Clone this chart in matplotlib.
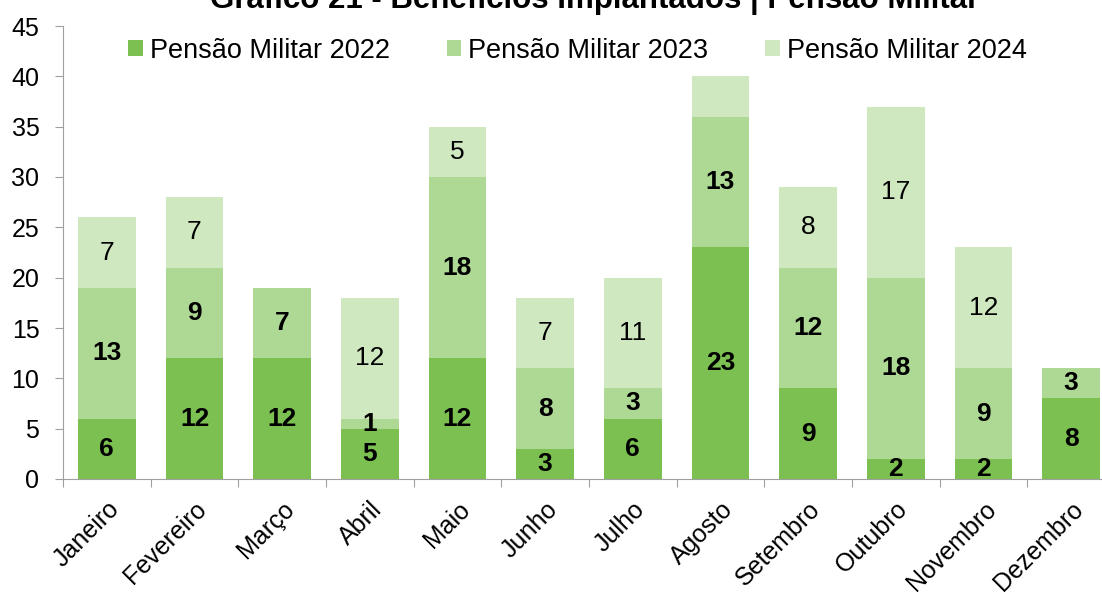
import matplotlib
matplotlib.use("Agg")
import matplotlib.pyplot as plt
import matplotlib.transforms as mtransforms
import numpy as np

plt.rcParams["font.family"] = ["Liberation Sans", "DejaVu Sans"]

months = ["Janeiro", "Fevereiro", "Março", "Abril", "Maio", "Junho",
          "Julho", "Agosto", "Setembro", "Outubro", "Novembro", "Dezembro"]
pm_2022 = [6, 12, 12, 5, 12, 3, 6, 23, 9, 2, 2, 8]
pm_2023 = [13, 9, 7, 1, 18, 8, 3, 13, 12, 18, 9, 3]
pm_2024 = [7, 7, 0, 12, 5, 7, 11, 4, 8, 17, 12, 0]
series_names = ["Pensão Militar 2022", "Pensão Militar 2023", "Pensão Militar 2024"]
colors = ["#7bc050", "#aed995", "#cfe8c0"]

fig = plt.figure(figsize=(11.02, 5.95), dpi=100)
# axis spans past the right edge of the picture, as in the reference
ax = fig.add_axes([63 / 1102, 1 - 479 / 595, 1052 / 1102, 453 / 595])

x = np.arange(len(months))
bottom = np.zeros(len(months))
for name, vals, col, wt in zip(series_names, [pm_2022, pm_2023, pm_2024], colors,
                               ["bold", "bold", "normal"]):
    vals = np.array(vals, dtype=float)
    ax.bar(x, vals, width=0.66, bottom=bottom, color=col, label=name)
    for xi, b, v in zip(x, bottom, vals):
        # the small Agosto 2024 segment carries no label in the source
        if v > 0 and not (name.endswith("2024") and months[xi] == "Agosto"):
            ax.text(xi, b + v / 2, f"{int(v)}", ha="center", va="center",
                    fontsize=19, fontweight=wt, color="black")
    bottom += vals

ax.set_xlim(-0.5, 11.5)
ax.set_ylim(0, 45)
ax.set_yticks(range(0, 46, 5))
ax.set_xticks(np.arange(-0.5, 12, 1), minor=False)
ax.set_xticklabels([])
ax.set_xticks(x, minor=True)
ax.set_xticklabels(months, minor=True, rotation=45, ha="right",
                   rotation_mode="anchor", fontsize=18)
shift = mtransforms.ScaledTranslation(-5 / 100, 0, fig.dpi_scale_trans)
for lbl in ax.get_xticklabels(minor=True):
    lbl.set_transform(lbl.get_transform() + shift)
ax.tick_params(axis="x", which="minor", length=0, pad=13)
ax.tick_params(axis="x", which="major", length=6, color="#a0a0a0")
ax.tick_params(axis="y", length=6, color="#a0a0a0", labelsize=18, pad=11)

for s in ["top", "right"]:
    ax.spines[s].set_visible(False)
for s in ["left", "bottom"]:
    ax.spines[s].set_color("#a0a0a0")

ax.legend(loc="center", bbox_to_anchor=(0.489, 0.945), ncol=3, frameon=False,
          fontsize=19.5, handlelength=0.55, handleheight=0.55, handletextpad=0.25,
          columnspacing=2.1, borderpad=0, borderaxespad=0)

fig.text(595 / 1102, 1 - 8 / 595, "Gráfico 21 - Benefícios Implantados | Pensão Militar",
         ha="center", va="baseline", fontsize=22.5, fontweight="bold")

fig.savefig("out.png", dpi=100)
